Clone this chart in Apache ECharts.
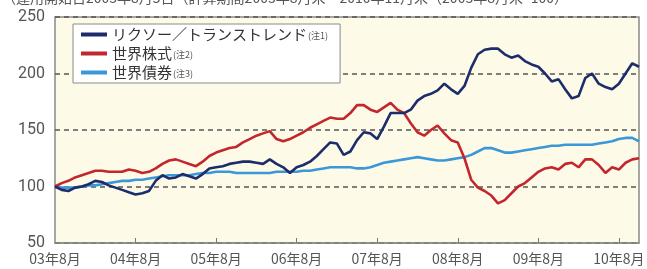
<!DOCTYPE html>
<html>
<head>
<meta charset="utf-8">
<script src="https://cdn.jsdelivr.net/npm/echarts@6/dist/echarts.min.js"></script>
<style>
html,body{margin:0;padding:0;background:#fff;}
#c{width:647px;height:269px;}
</style>
</head>
<body>
<div id="c"></div>
<script>
// Months from 2003-08 to 2010-11
const startYear = 2003, startMonth = 8, monthCount = 88;
const categories = [];
for (let i = 0; i < monthCount; i++) {
  const m = startMonth - 1 + i;
  const y = startYear + Math.floor(m / 12);
  const mo = (m % 12) + 1;
  categories.push(String(y % 100).padStart(2, '0') + '年' + mo + '月');
}
const seriesNames = ['リクソー／トランストレンド', '世界株式', '世界債券'];
const seriesNotes = ['(注1)', '(注2)', '(注3)'];
const lyxor = [100,97,96,99,100,102,105,104,101,99,97,95,93,94,96,105,110,107,108,111,109,107,111,116,117,118,120,121,122,122,121,120,124,120,117,112,117,119,122,127,133,139,138,128,131,141,148,147,142,153,165,165,165,168,176,180,182,185,191,186,182,189,205,217,221,222,222,217,214,216,211,208,206,200,193,195,186,178,180,196,200,191,188,186,191,200,209,206];
const equity = [100,103,105,108,110,112,114,114,113,113,113,115,114,112,113,116,120,123,124,122,120,118,122,127,130,132,134,135,139,142,145,147,149,142,140,142,145,148,152,155,158,161,160,160,165,172,172,168,166,170,174,168,165,156,148,145,150,154,147,141,139,125,106,99,96,92,85,88,94,100,103,108,113,116,117,115,120,121,117,124,124,119,112,117,115,121,124,125];
const bonds = [100,99,99,99,100,101,101,102,103,104,105,105,106,106,107,108,109,110,110,110,110,111,112,112,113,113,113,112,112,112,112,112,112,113,113,113,113,114,114,115,116,117,117,117,117,116,116,117,119,121,122,123,124,125,126,125,124,123,123,124,125,126,128,131,134,134,132,130,130,131,132,133,134,135,136,136,137,137,137,137,137,138,139,140,142,143,143,140];
const yTicks = [50, 100, 150, 200, 250];
const headerText = '（運用開始日2003年8月5日（計算期間2003年8月末～2010年11月末（2003年8月末=100）';

const colors = ['#1d2d6b', '#c4262e', '#3a98d8'];
const chart = echarts.init(document.getElementById('c'), null, {renderer: 'canvas'});
const noteMap = {};
seriesNames.forEach((n, i) => noteMap[n] = seriesNotes[i]);

chart.setOption({
  backgroundColor: '#ffffff',
  animation: false,
  color: colors,
  grid: {left: 55, right: 8, top: 17, bottom: 26, show: true, backgroundColor: '#fdfbe7', borderColor: '#8a8a86', borderWidth: 1.5, outerBoundsMode: 'none'},
  graphic: [{
    type: 'text', left: 2, top: -9,
    style: {text: headerText, font: '14px "Noto Sans CJK JP"', fill: '#555'}
  }],
  legend: {
    orient: 'vertical', left: 73, top: 24,
    data: seriesNames,
    backgroundColor: '#ffffff', borderColor: '#8a8a86', borderWidth: 1,
    padding: [3, 12, 3, 8], itemGap: 4,
    itemWidth: 26, itemHeight: 4, icon: 'rect',
    formatter: n => '{a|' + n + '}{b|' + noteMap[n] + '}',
    textStyle: {
      rich: {
        a: {fontSize: 15, color: '#333', fontFamily: '"Noto Sans CJK JP"', lineHeight: 17},
        b: {fontSize: 9, color: '#555', fontFamily: '"Noto Sans CJK JP"', padding: [3, 0, 0, 1]}
      }
    }
  },
  xAxis: {
    type: 'category', data: categories, boundaryGap: false,
    axisLine: {show: true, lineStyle: {color: '#8a8a86', width: 1.5}},
    axisTick: {show: true, inside: true, length: 5, lineStyle: {color: '#777'},
      interval: (i, v) => v.endsWith('年8月') && i > 0},
    axisLabel: {
      interval: (i, v) => v.endsWith('年8月'),
      color: '#555', fontSize: 14, fontFamily: '"Noto Sans CJK JP"', margin: 9,
      hideOverlap: false
    },
    splitLine: {show: false}
  },
  yAxis: {
    type: 'value', min: yTicks[0], max: yTicks[yTicks.length - 1], interval: 50,
    axisLine: {show: false}, axisTick: {show: false},
    axisLabel: {color: '#555', fontSize: 16, fontFamily: 'Roboto, "Noto Sans"', margin: 10},
    splitLine: {show: true, lineStyle: {color: '#555', type: [5, 4], width: 1.5}}
  },
  series: [
    {name: seriesNames[0], type: 'line', data: lyxor, symbol: 'none', lineStyle: {width: 2.6}, z: 4},
    {name: seriesNames[1], type: 'line', data: equity, symbol: 'none', lineStyle: {width: 2.6}, z: 3},
    {name: seriesNames[2], type: 'line', data: bonds, symbol: 'none', lineStyle: {width: 2.6}, z: 2}
  ]
});
</script>
</body>
</html>
